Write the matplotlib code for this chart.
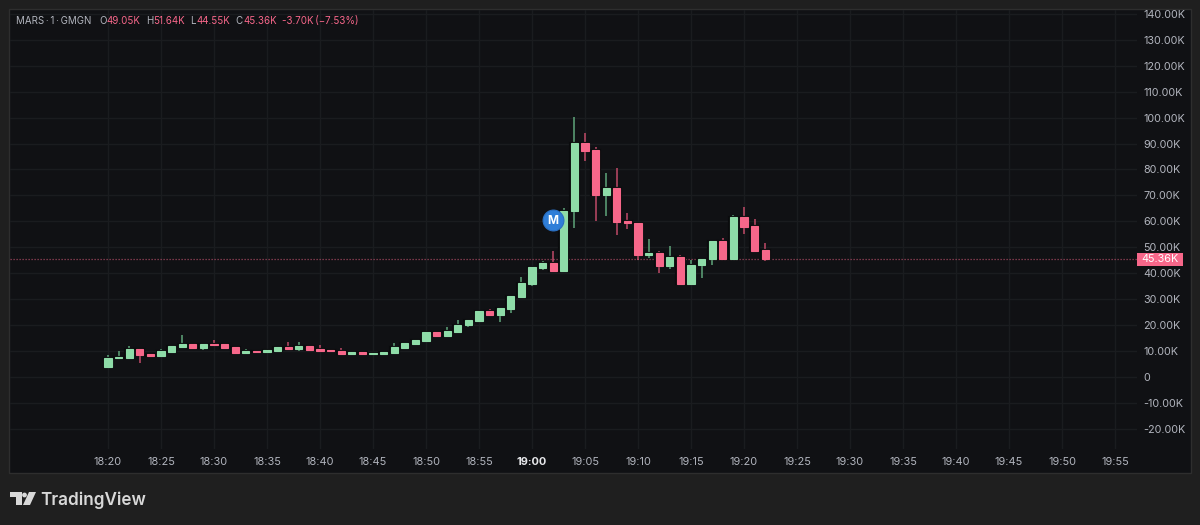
import matplotlib.pyplot as plt
from matplotlib.patches import Rectangle, Polygon, Circle
from matplotlib.transforms import Affine2D

plt.rcParams['font.family'] = ['Inter', 'DejaVu Sans']

opens = [3.7, 7.4, 7.4, 10.9, 8.75, 8.1, 9.8, 11.7, 12.6, 11.1,
         12.7, 12.6, 11.6, 9.4, 10.0, 9.75, 10.0, 11.6, 10.7, 12.0,
         10.7, 10.4, 10.0, 8.75, 9.6, 9.0, 9.0, 9.4, 11.3, 12.6,
         14.0, 17.5, 15.9, 17.2, 20.0, 21.6, 25.5, 23.9, 26.2, 30.7,
         35.7, 42.0, 44.0, 40.8, 63.9, 90.2, 87.5, 70.0, 73.0, 60.2,
         59.5, 47.0, 47.9, 42.7, 46.3, 35.8, 43.1, 45.4, 52.6, 45.4,
         61.6, 58.2, 49.05]
highs = [8.5, 10.0, 12.0, 10.9, 9.2, 10.7, 12.3, 16.2, 12.9, 13.0,
         14.3, 12.6, 11.6, 10.9, 10.5, 10.4, 11.6, 13.4, 13.4, 12.0,
         12.3, 10.9, 11.3, 9.9, 9.6, 9.4, 10.0, 13.0, 13.0, 14.3,
         17.5, 17.5, 19.2, 22.0, 21.9, 25.9, 26.2, 27.0, 31.2, 38.4,
         42.4, 44.7, 48.6, 65.0, 100.4, 94.0, 88.8, 78.5, 80.6, 63.1,
         59.5, 53.2, 48.6, 50.3, 47.0, 44.9, 45.6, 52.6, 53.6, 62.5,
         65.4, 60.9, 51.64]
lows = [3.7, 7.3, 7.4, 5.5, 8.1, 8.1, 9.8, 11.7, 10.7, 10.3,
        12.3, 11.3, 9.4, 9.0, 9.75, 9.2, 10.0, 10.7, 10.0, 10.4,
        10.0, 10.0, 8.75, 8.75, 8.6, 8.8, 9.0, 9.4, 11.3, 12.6,
        14.0, 15.9, 15.9, 17.2, 19.4, 21.6, 23.3, 21.3, 24.8, 30.7,
        35.2, 41.3, 40.8, 40.8, 57.6, 83.3, 60.2, 62.1, 54.9, 57.0,
        45.1, 45.8, 40.1, 41.8, 35.8, 35.8, 38.3, 43.3, 45.4, 45.4,
        55.3, 48.7, 44.55]
closes = [7.4, 7.7, 10.9, 8.4, 8.1, 9.9, 12.0, 12.6, 11.1, 12.6,
          12.3, 11.3, 9.4, 10.0, 9.75, 10.4, 11.6, 10.7, 12.0, 10.4,
          10.0, 10.0, 8.75, 9.6, 9.0, 9.4, 9.6, 11.6, 13.0, 14.3,
          17.5, 15.9, 17.6, 20.2, 21.9, 25.5, 23.9, 26.5, 31.2, 36.1,
          42.4, 44.1, 40.8, 64.1, 90.2, 87.3, 70.0, 73.0, 59.9, 59.3,
          47.0, 47.9, 42.8, 46.3, 35.8, 43.3, 45.6, 52.6, 45.4, 61.6,
          58.0, 48.7, 45.36]

last_price = 45.36
marker_x = 42
marker_y = 60.5

time_ticks = list(range(0, 100, 5))
time_labels = ['18:20', '18:25', '18:30', '18:35', '18:40', '18:45', '18:50', '18:55',
               '19:00', '19:05', '19:10', '19:15', '19:20', '19:25', '19:30', '19:35',
               '19:40', '19:45', '19:50', '19:55']
price_ticks = list(range(-20, 150, 10))
price_labels = ['-20.00K', '-10.00K', '0', '10.00K', '20.00K', '30.00K', '40.00K', '50.00K',
                '60.00K', '70.00K', '80.00K', '90.00K', '100.00K', '110.00K', '120.00K',
                '130.00K', '140.00K']

PAGE = '#1f1f1f'
PANE = '#101114'
GRID = '#1a1c1f'
FRAME = '#2e2e2e'
TEXT = '#b2b5be'
UP = '#8edca8'
DOWN = '#f7678a'
UP_WICK = '#5fa57a'
DOWN_WICK = '#c04a68'

W, H = 1200, 525
fig = plt.figure(figsize=(12, 5.25), dpi=100, facecolor=PAGE)
# pixel coords, y going down, for everything around the chart
px = Affine2D().scale(1 / W, -1 / H).translate(0, 1) + fig.transFigure

fig.add_artist(Rectangle((9, 9), 1182, 464, transform=px, fc=PANE, ec=FRAME, lw=1, zorder=-5))

ax = fig.add_axes([10 / W, 1 - 449 / H, 1127 / W, 439 / H], facecolor='none')
ax.set_xlim(-9.245, 97.08)
ax.set_ylim(-27.8, 141.5)
for s in ax.spines.values():
    s.set_visible(False)

ax.set_axisbelow(True)
ax.grid(True, color=GRID, lw=1)
ax.yaxis.tick_right()
ax.set_xticks(time_ticks)
ax.set_xticklabels(time_labels)
ax.set_yticks(price_ticks)
ax.set_yticklabels(price_labels)
ax.tick_params(axis='x', length=0, pad=6, labelsize=7.9, labelcolor=TEXT)
ax.tick_params(axis='y', length=0, pad=4.3, labelsize=7.8, labelcolor=TEXT)
for lab in ax.get_yticklabels():
    lab.set_ha('left')
for lab in ax.get_xticklabels():
    if lab.get_text() == '19:00':
        lab.set_fontweight('bold')
        lab.set_color('#e6e7ea')

xs = list(range(len(opens)))
colors = [UP if c >= o else DOWN for o, c in zip(opens, closes)]
wicks = [UP_WICK if c >= o else DOWN_WICK for o, c in zip(opens, closes)]
spans = [c - o for o, c in zip(opens, closes)]

ax.vlines(xs, lows, highs, colors=wicks, lw=1.1, zorder=3)
# dark halo first, then the body with its own edge so dojis still show
ax.bar(xs, spans, bottom=opens, width=0.84, color='#0a0b0d', edgecolor='#0a0b0d',
       linewidth=1.6, zorder=4)
ax.bar(xs, spans, bottom=opens, width=0.68, color=colors, edgecolor=colors,
       linewidth=0.8, zorder=5)

ax.axhline(last_price, color=DOWN, lw=0.9, ls=(0, (1, 1.4)), alpha=0.6, zorder=3.5)

# price tag on the axis
ax.add_patch(Rectangle((1.0, last_price - 2.5), 46 / 1127, 5.0, transform=ax.get_yaxis_transform(),
                       fc=DOWN, ec='none', clip_on=False, zorder=6))
ax.text(1 + 23 / 1127, last_price, '45.36K', transform=ax.get_yaxis_transform(), clip_on=False,
        ha='center', va='center', color='#ffffff', fontsize=7.8, zorder=7)

# marker bubble
ax.scatter([marker_x], [marker_y], s=225, color='#2f7ed8', edgecolor='#2a6fc2', lw=0.8, zorder=8)
ax.text(marker_x, marker_y - 0.2, 'M', color='white', fontsize=8.5, fontweight='bold',
        ha='center', va='center', zorder=9)

# legend row
legend_bits = [(16, 'MARS\u2009·\u20091\u2009·\u2009GMGN', TEXT), (99, 'O', TEXT), (106, '49.05K', DOWN),
               (146, 'H', TEXT), (153, '51.64K', DOWN), (190, 'L', TEXT), (196, '44.55K', DOWN),
               (235, 'C', TEXT), (243, '45.36K', DOWN), (282, '-3.70K\u2009(−7.53%)', DOWN)]
for x, s, c in legend_bits:
    fig.text(x, 21, s, transform=px, color=c, fontsize=7.0, ha='left', va='center')

# TradingView logo
LOGO = '#d8d8d8'
fig.add_artist(Polygon([(10, 492), (22, 492), (22, 505), (16, 505), (16, 497), (10, 497)],
                       closed=True, transform=px, fc=LOGO, ec='none'))
fig.add_artist(Circle((24.5, 495), 2.4, transform=px, fc=LOGO, ec='none'))
fig.add_artist(Polygon([(29, 492), (36, 492), (30, 505), (23, 505)],
                       closed=True, transform=px, fc=LOGO, ec='none'))
fig.text(40.5, 500, 'TradingView', transform=px, color=LOGO, fontsize=12.3, fontweight='semibold',
         ha='left', va='center')

fig.savefig('out.png', dpi=100, facecolor=PAGE)
